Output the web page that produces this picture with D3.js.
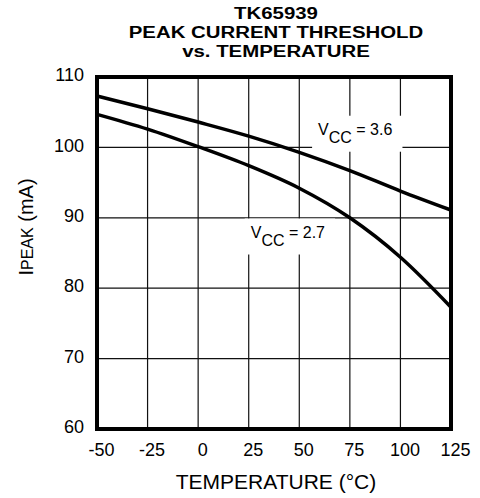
<!DOCTYPE html>
<html>
<head>
<meta charset="utf-8">
<script src="https://cdn.jsdelivr.net/npm/d3@7"></script>
<style>
    body { margin: 0; background: white; }
    text { font-family: "Liberation Sans", Arial, Helvetica, sans-serif; fill: black; }
</style>
</head>
<body>
<div id="chart"></div>
<script>
const width = 480;
const height = 498;
const MARGIN_LEFT = 97;
const MARGIN_RIGHT = 29;
const MARGIN_TOP = 77;
const MARGIN_DOWN = 69;

// data
var temperatures = [-50, -25, 0, 25, 50, 75, 100, 125];
var peakVcc36 = [107.3, 105.5, 103.6, 101.6, 99.3, 96.7, 93.8, 91.1];
var peakVcc27 = [104.7, 102.6, 100.1, 97.4, 94.2, 90.0, 84.4, 77.3];
var xTicks = [-50, -25, 0, 25, 50, 75, 100, 125];
var yTicks = [60, 70, 80, 90, 100, 110];
var titleLines = ["TK65939", "PEAK CURRENT THRESHOLD", "vs. TEMPERATURE"];
var seriesNames = ["3.6", "2.7"];
var labelTemps = [59.3, 26];
var labelPeaks = [101.8, 87.2];

var series = [peakVcc36, peakVcc27].map((vals, i) => ({
    name: seriesNames[i],
    points: temperatures.map((t, j) => [t, vals[j]])
}));

//Defining scales
var xScale = d3.scaleLinear()
    .domain([-50, 125])
    .range([MARGIN_LEFT, width - MARGIN_RIGHT]);

var yScale = d3.scaleLinear()
    .domain([60, 110])
    .range([height - MARGIN_DOWN, MARGIN_TOP]);

var svg = d3.select('#chart')
    .append("svg")
    .attr('width', width)
    .attr('height', height);

// Title (the original type is a bit wide, so stretch it sideways)
svg.append('g')
    .attr('transform', `translate(${(xScale.range()[0] + xScale.range()[1]) / 2 + 2}, 0) scale(1.2, 1)`)
    .append('text')
    .attr('text-anchor', 'middle')
    .attr('font-weight', 'bold')
    .attr('font-size', '17px')
    .selectAll('tspan')
    .data(titleLines)
    .join('tspan')
        .attr('x', 0)
        .attr('y', (d, i) => 19 + i * 19)
        .text(d => d);

// Grid
svg.append('g')
    .selectAll('line')
    .data(xTicks.slice(1, -1))
    .join('line')
        .attr('x1', d => xScale(d))
        .attr('x2', d => xScale(d))
        .attr('y1', yScale.range()[1])
        .attr('y2', yScale.range()[0])
        .attr('stroke', '#111')
        .attr('stroke-width', 1.2);

svg.append('g')
    .selectAll('line')
    .data(yTicks.slice(1, -1))
    .join('line')
        .attr('x1', xScale.range()[0])
        .attr('x2', xScale.range()[1])
        .attr('y1', d => yScale(d))
        .attr('y2', d => yScale(d))
        .attr('stroke', '#111')
        .attr('stroke-width', 1.2);

// Labels of the curves, white box hides the grid behind them
var labels = svg.append('g')
    .selectAll('g')
    .data(series)
    .join('g');

var labelText = labels.append('text')
    .attr('x', (d, i) => xScale(labelTemps[i]))
    .attr('y', (d, i) => yScale(labelPeaks[i]))
    .attr('font-size', '16px');
labelText.append('tspan').text('V');
labelText.append('tspan').attr('dy', 8).text('CC');
labelText.append('tspan').attr('dy', -8).text(d => ' = ' + d.name);

labels.each(function() {
    var g = d3.select(this);
    var box = g.select('text').node().getBBox();
    g.insert('rect', 'text')
        .attr('x', box.x - 6)
        .attr('y', box.y - 5)
        .attr('width', box.width + 16)
        .attr('height', box.height + 11)
        .attr('fill', 'white');
});

// Curves
var line = d3.line()
    .x(d => xScale(d[0]))
    .y(d => yScale(d[1]))
    .curve(d3.curveMonotoneX);

svg.append('g')
    .selectAll('path')
    .data(series)
    .join('path')
        .attr('d', d => line(d.points))
        .attr('fill', 'none')
        .attr('stroke', 'black')
        .attr('stroke-width', 3.5);

// Frame
svg.append('rect')
    .attr('x', xScale.range()[0])
    .attr('y', yScale.range()[1])
    .attr('width', xScale.range()[1] - xScale.range()[0])
    .attr('height', yScale.range()[0] - yScale.range()[1])
    .attr('fill', 'none')
    .attr('stroke', 'black')
    .attr('stroke-width', 4);

//Adding axis
var xAxis = svg.append('g')
    .attr('transform', `translate(4, ${height - MARGIN_DOWN})`)
    .call(d3.axisBottom(xScale).tickValues(xTicks).tickFormat(d => String(d)).tickSize(0).tickPadding(14));

var yAxis = svg.append('g')
    .attr('transform', `translate(${MARGIN_LEFT}, -2)`)
    .call(d3.axisLeft(yScale).tickValues(yTicks).tickFormat(d => String(d)).tickSize(0).tickPadding(13));

svg.selectAll('.domain').remove();
svg.selectAll('.tick text')
    .attr('font-family', '"Liberation Sans", Arial, sans-serif')
    .attr('font-size', '18px')
    .attr('fill', 'black');

// Axis titles
svg.append('text')
    .attr('x', (xScale.range()[0] + xScale.range()[1]) / 2 + 2)
    .attr('y', 489)
    .attr('text-anchor', 'middle')
    .attr('font-size', '21px')
    .text('TEMPERATURE (\u00B0C)');

var yTitle = svg.append('text')
    .attr('transform', `translate(33, ${(yScale.range()[0] + yScale.range()[1]) / 2 - 26}) rotate(-90)`)
    .attr('text-anchor', 'middle')
    .attr('font-size', '20px');
yTitle.append('tspan').text('I');
yTitle.append('tspan').attr('font-size', '16px').text('PEAK');
yTitle.append('tspan').text(' (mA)');
</script>
</body>
</html>
